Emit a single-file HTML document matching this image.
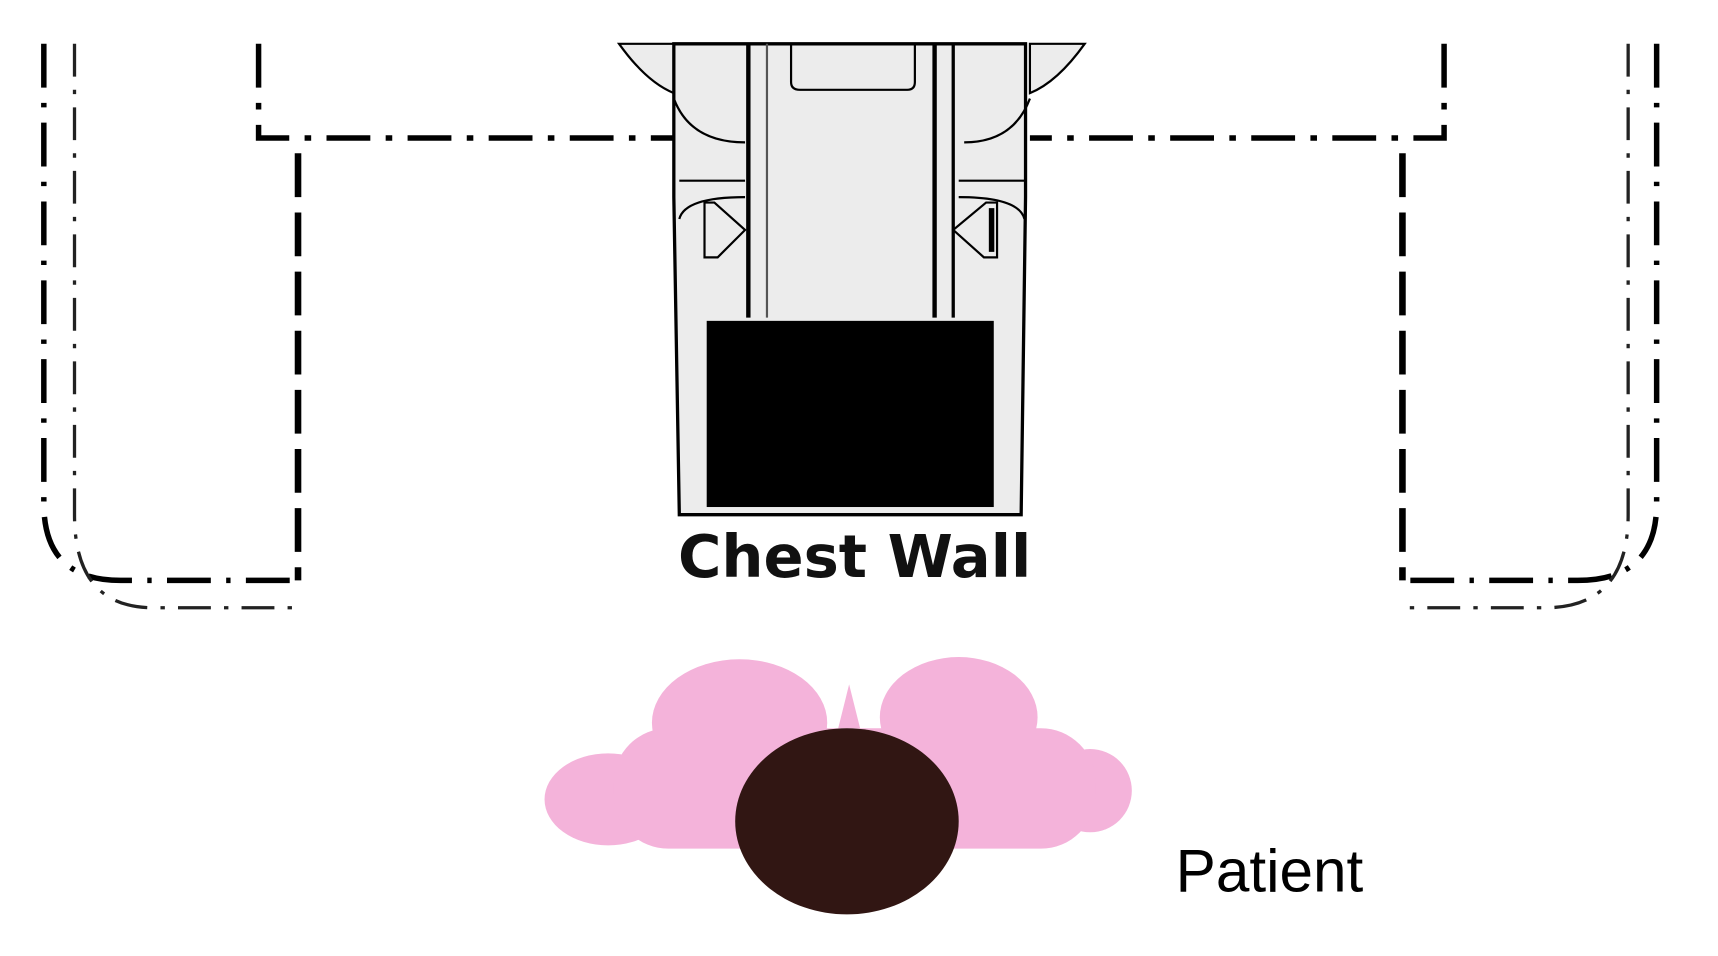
<!DOCTYPE html>
<html><head><meta charset="utf-8"><style>
html,body{margin:0;padding:0;background:#fff;}
svg{display:block;}
</style></head><body>
<svg width="1718" height="956" viewBox="0 0 1568 873" preserveAspectRatio="none" xmlns="http://www.w3.org/2000/svg">
<rect width="1568" height="873" fill="#fff"/>
<g fill="none" stroke="#000">
<path d="M40 40 V460 Q40 530 110 530 H272" stroke-width="5" stroke-dasharray="40 14 4 14"/>
<path d="M68 40 V470 Q68 555 140 555 H272" stroke-width="3" stroke-dasharray="30 12 4 12" stroke="#222"/>
<path d="M272 140 V530" stroke-width="6" stroke-dasharray="40 14"/>
<path d="M236 40 V126 H615" stroke-width="5" stroke-dasharray="40 14 6 14"/>
<path d="M1512 40 V460 Q1512 530 1440 530 H1280" stroke-width="5" stroke-dasharray="40 14 4 14"/>
<path d="M1486 40 V470 Q1486 555 1410 555 H1280" stroke-width="3" stroke-dasharray="30 12 4 12" stroke="#222"/>
<path d="M1280 140 V530" stroke-width="6" stroke-dasharray="40 14"/>
<path d="M1318 40 V126 H940" stroke-width="5" stroke-dasharray="40 14 6 14"/>
</g>
<g stroke="#000" stroke-width="3" fill="#ececec">
<path d="M565 40 Q590 75 615 85 V40 Z" stroke-width="2"/>
<path d="M990 40 Q965 75 940 85 V40 Z" stroke-width="2"/>
<path d="M615 40 V180 L620 470 H932 L936 180 V40 Z" stroke-width="3"/>
</g>
<g stroke="#000" fill="none">
<path d="M615 90 Q630 130 680 130" stroke-width="2"/>
<path d="M940 90 Q925 130 880 130" stroke-width="2"/>
<line x1="620" y1="165" x2="680" y2="165" stroke-width="2"/>
<line x1="875" y1="165" x2="935" y2="165" stroke-width="2"/>
<path d="M620 200 Q625 180 680 180" stroke-width="2"/>
<path d="M935 200 Q930 180 875 180" stroke-width="2"/>
<line x1="683" y1="40" x2="683" y2="290" stroke-width="4"/>
<line x1="700" y1="40" x2="700" y2="290" stroke-width="2" stroke="#555"/>
<line x1="853" y1="40" x2="853" y2="290" stroke-width="4"/>
<line x1="870" y1="40" x2="870" y2="290" stroke-width="3"/>
<path d="M722 40 V75 Q722 82 730 82 H828 Q835 82 835 75 V40" stroke-width="2"/>
<path d="M643 185 H652 L680 210 L655 235 H643 Z" stroke-width="2"/>
<path d="M910 185 H900 L870 210 L898 235 H910 Z" stroke-width="2"/>
<line x1="905" y1="190" x2="905" y2="230" stroke-width="5"/>
</g>
<rect x="645" y="293" width="262" height="170" fill="#000"/>
<text x="780" y="527" text-anchor="middle" font-family="'Comic Sans MS','DejaVu Sans',sans-serif" font-weight="bold" font-size="54" fill="#111">Chest Wall</text>
<g fill="#f4b3da">
<ellipse cx="675" cy="660" rx="80" ry="58"/>
<ellipse cx="875" cy="655" rx="72" ry="55"/>
<ellipse cx="555" cy="730" rx="58" ry="42"/>
<ellipse cx="995" cy="722" rx="38" ry="38"/>
<rect x="560" y="665" width="440" height="110" rx="50"/>
<path d="M765 665 L775 625 L785 665 Z"/>
</g>
<ellipse cx="773" cy="750" rx="102" ry="85" fill="#311613"/>
<text x="1073" y="814" font-family="'Liberation Sans',sans-serif" font-size="55" fill="#000">Patient</text>
</svg>
</body></html>
